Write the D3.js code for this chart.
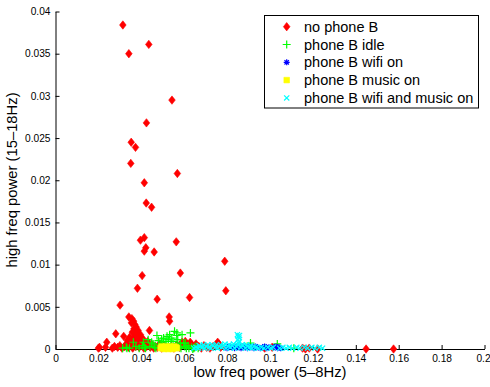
<!DOCTYPE html>
<html><head><meta charset="utf-8">
<script src="https://cdn.jsdelivr.net/npm/d3@7"></script>
<style>body{margin:0;background:#fff}svg{display:block}text{font-family:"Liberation Sans",Arial,Helvetica,sans-serif;fill:#000}</style>
</head><body><svg id="c" width="490" height="387"></svg>
<script>
const xTicks=[0,0.02,0.04,0.06,0.08,0.1,0.12,0.14,0.16,0.18,0.2];
const xTickLabels=["0","0.02","0.04","0.06","0.08","0.1","0.12","0.14","0.16","0.18","0.2"];
const yTicks=[0,0.005,0.01,0.015,0.02,0.025,0.03,0.035,0.04];
const yTickLabels=["0","0.005","0.01","0.015","0.02","0.025","0.03","0.035","0.04"];
const seriesNames=["no phone B","phone B idle","phone B wifi on","phone B music on","phone B wifi and music on"];

const noPhoneB=[[0.0314,0.0384],[0.0435,0.0361],[0.0342,0.0350],[0.0543,0.0295],[0.0424,0.0268],[0.0353,0.0245],[0.0373,0.0239],[0.0351,0.0220],[0.0568,0.0208],[0.0414,0.0197],[0.0423,0.0173],[0.0448,0.0168],[0.0563,0.0127],[0.0396,0.0129],[0.0414,0.0132],[0.0421,0.0120],[0.0414,0.0116],[0.0460,0.0115],[0.0789,0.0104],[0.0582,0.0090],[0.0794,0.0069],[0.0404,0.0087],[0.0382,0.0072],[0.0474,0.0059],[0.0625,0.0061],[0.0301,0.0052],
[0.0200,0.0001],[0.0205,0.0002],[0.0233,0.0002],[0.0239,0.0008],[0.0265,0.0001],[0.0275,0.0003],[0.0281,0.0018],[0.0290,0.0002],[0.0300,0.0004],[0.0310,0.0001],[0.0318,0.0015],[0.0322,0.0003],[0.0330,0.0006],[0.0335,0.0010],[0.0340,0.0002],[0.0342,0.0038],[0.0346,0.0014],[0.0350,0.0004],[0.0352,0.0009],[0.0354,0.0031],[0.0356,0.0036],[0.0358,0.0020],[0.0360,0.0001],[0.0362,0.0012],[0.0364,0.0033],[0.0366,0.0024],[0.0368,0.0007],[0.0370,0.0029],[0.0372,0.0016],[0.0374,0.0003],[0.0376,0.0026],[0.0378,0.0019],[0.0380,0.0011],[0.0382,0.0005],[0.0385,0.0022],[0.0388,0.0014],[0.0390,0.0002],[0.0393,0.0008],[0.0396,0.0017],[0.0400,0.0004],[0.0404,0.0010],[0.0408,0.0012],[0.0412,0.0001],[0.0418,0.0006],[0.0425,0.0003],[0.0430,0.0009],[0.0438,0.0022],[0.0442,0.0002],[0.0450,0.0005],[0.0458,0.0001],[0.0465,0.0003],[0.0475,0.0002],[0.0485,0.0006],[0.0495,0.0001],[0.0505,0.0004],[0.0515,0.0002],[0.0530,0.0038],[0.0532,0.0033],[0.0540,0.0003],[0.0552,0.0001],[0.0565,0.0005],[0.0578,0.0002],[0.0590,0.0008],[0.0598,0.0005],[0.0605,0.0009],[0.0612,0.0006],[0.0620,0.0004],[0.0628,0.0008],[0.0636,0.0005],[0.0645,0.0002],[0.0655,0.0006],[0.0668,0.0003],[0.0680,0.0001],[0.0692,0.0004],[0.0705,0.0002],[0.0720,0.0001],[0.0735,0.0003],[0.0748,0.0005],[0.0756,0.0008],[0.0762,0.0006],[0.0770,0.0002],[0.0975,0.0001],[0.1010,0.0002],[0.1152,0.0001],[0.1165,0.0000],[0.1183,0.0001],[0.1222,0.0000],[0.1448,0.0000],[0.1576,0.0000]];

const phoneBIdle=[[0.0313,0.0001],[0.0330,0.0002],[0.0333,0.0001],[0.0345,0.0001],[0.0363,0.0008],[0.0375,0.0003],[0.0390,0.0001],[0.0405,0.0004],[0.0410,0.0008],[0.0415,0.0002],[0.0420,0.0001],[0.0432,0.0011],[0.0440,0.0003],[0.0448,0.0008],[0.0455,0.0006],[0.0462,0.0002],[0.0468,0.0001],[0.0473,0.0016],[0.0480,0.0010],[0.0488,0.0005],[0.0495,0.0012],[0.0502,0.0007],[0.0504,0.0013],[0.0510,0.0003],[0.0515,0.0009],[0.0520,0.0015],[0.0526,0.0011],[0.0532,0.0017],[0.0538,0.0006],[0.0542,0.0013],[0.0548,0.0009],[0.0555,0.0021],[0.0560,0.0004],[0.0565,0.0016],[0.0566,0.0019],[0.0570,0.0011],[0.0576,0.0002],[0.0582,0.0007],[0.0585,0.0001],[0.0590,0.0017],[0.0597,0.0007],[0.0603,0.0003],[0.0605,0.0007],[0.0610,0.0001],[0.0618,0.0004],[0.0622,0.0001],[0.0629,0.0019],[0.0635,0.0002],[0.0640,0.0000],[0.0645,0.0001],[0.0650,0.0002],[0.0655,0.0003],[0.0665,0.0001],[0.0909,0.0007],[0.1034,0.0006],[0.1111,0.0001]];

const phoneBWifi=[[0.0800,0.0001],[0.0810,0.0003],[0.0820,0.0002],[0.0835,0.0001],[0.0842,0.0003],[0.0850,0.0002],[0.0865,0.0001],[0.0872,0.0003],[0.0880,0.0002],[0.0895,0.0001],[0.0902,0.0003],[0.0910,0.0002],[0.0925,0.0001],[0.0932,0.0003],[0.0940,0.0002],[0.0955,0.0001],[0.0966,0.0002],[0.0975,0.0003],[0.0985,0.0001],[0.0995,0.0002],[0.1020,0.0002],[0.1028,0.0003],[0.1035,0.0001],[0.1042,0.0002],[0.1050,0.0001]];

const phoneBMusic=[[0.0490,0.0001],[0.0494,0.0003],[0.0498,0.0001],[0.0502,0.0002],[0.0506,0.0000],[0.0510,0.0002],[0.0514,0.0003],[0.0518,0.0001],[0.0522,0.0002],[0.0526,0.0000],[0.0530,0.0002],[0.0534,0.0003],[0.0538,0.0001],[0.0542,0.0002],[0.0546,0.0000],[0.0550,0.0002],[0.0554,0.0003],[0.0558,0.0001],[0.0562,0.0002],[0.0566,0.0001]];

const phoneBWifiMusic=[[0.0645,0.0001],[0.0655,0.0002],[0.0665,0.0001],[0.0670,0.0004],[0.0675,0.0003],[0.0685,0.0002],[0.0690,0.0005],[0.0695,0.0001],[0.0705,0.0003],[0.0710,0.0005],[0.0715,0.0002],[0.0725,0.0001],[0.0730,0.0005],[0.0735,0.0004],[0.0745,0.0002],[0.0750,0.0005],[0.0755,0.0001],[0.0765,0.0003],[0.0770,0.0005],[0.0775,0.0002],[0.0785,0.0004],[0.0790,0.0006],[0.0795,0.0001],[0.0805,0.0003],[0.0810,0.0005],[0.0815,0.0002],[0.0825,0.0004],[0.0830,0.0006],[0.0835,0.0001],[0.0845,0.0003],[0.0848,0.0017],[0.0852,0.0015],[0.0855,0.0013],[0.0850,0.0011],[0.0857,0.0009],[0.0853,0.0007],[0.0849,0.0005],[0.0858,0.0016],[0.0865,0.0002],[0.0870,0.0005],[0.0875,0.0004],[0.0885,0.0001],[0.0890,0.0005],[0.0895,0.0003],[0.0905,0.0002],[0.0910,0.0004],[0.0915,0.0001],[0.0925,0.0003],[0.0935,0.0002],[0.0945,0.0001],[0.0960,0.0002],[0.0972,0.0001],[0.0990,0.0002],[0.1005,0.0001],[0.1015,0.0002],[0.1045,0.0001],[0.1060,0.0002],[0.1075,0.0001],[0.1090,0.0002],[0.1105,0.0001],[0.1125,0.0002],[0.1140,0.0001],[0.1160,0.0002],[0.1175,0.0001],[0.1195,0.0002],[0.1210,0.0001],[0.1230,0.0002],[0.1245,0.0001]];

const svg=d3.select("#c");
const x=d3.scaleLinear().domain([0,0.2]).range([55.5,484.5]);
const y=d3.scaleLinear().domain([0,0.04]).range([349,11.5]);

// axes
const xAxis=d3.axisBottom(x).tickValues(xTicks).tickFormat((d,i)=>xTickLabels[i]).tickSizeInner(-4).tickSizeOuter(0).tickPadding(6);
const yAxis=d3.axisLeft(y).tickValues(yTicks).tickFormat((d,i)=>yTickLabels[i]).tickSizeInner(-4).tickSizeOuter(0).tickPadding(5);
const gx=svg.append("g").attr("transform","translate(0,349)").call(xAxis);
const gy=svg.append("g").attr("transform","translate(55.5,0)").call(yAxis);
[gx,gy].forEach(g=>{g.selectAll("text").style("font-size","10.2px").attr("fill","#222");g.selectAll("line,path").attr("stroke","#000");});
gx.selectAll(".tick").filter((d,i)=>i===xTicks.length-1).select("text").attr("dx","-1.5");

// markers
const shapes={
 diamond:"M0,-4.2L3.3,0L0,4.2L-3.3,0Z",
 plus:"M-4,0H4M0,-4V4",
 star:"M-3,0H3M0,-3V3M-2.2,-2.2L2.2,2.2M-2.2,2.2L2.2,-2.2",
 square:"M-2.8,-2.8H2.8V2.8H-2.8Z",
 cross:"M-2.6,-2.6L2.6,2.6M-2.6,2.6L2.6,-2.6"
};
const series=[
 {name:seriesNames[0],data:noPhoneB,shape:"diamond",color:"#ff0000",fill:true},
 {name:seriesNames[1],data:phoneBIdle,shape:"plus",color:"#00ff00",fill:false},
 {name:seriesNames[2],data:phoneBWifi,shape:"star",color:"#0000ff",fill:false},
 {name:seriesNames[3],data:phoneBMusic,shape:"square",color:"#ffff00",fill:true},
 {name:seriesNames[4],data:phoneBWifiMusic,shape:"cross",color:"#00ffff",fill:false}
];
function styleMarker(sel,s){
  sel.attr("d",shapes[s.shape])
   .attr("fill",s.fill?s.color:"none")
   .attr("stroke",s.color)
   .attr("stroke-width",s.fill?0.6:1.2);
}
series.forEach(s=>{
  svg.append("g").selectAll("path").data(s.data).join("path")
   .attr("transform",d=>`translate(${x(d[0])},${y(d[1])})`)
   .call(styleMarker,s);
});

// axis titles
svg.append("text").attr("x",270).attr("y",377).attr("text-anchor","middle").style("font-size","14.8px").text("low freq power (5\u20138Hz)");
svg.append("text").attr("transform","translate(17,180) rotate(-90)").attr("text-anchor","middle").style("font-size","14.8px").text("high freq power (15\u201318Hz)");

// legend
const lg=svg.append("g");
lg.append("rect").attr("x",264.5).attr("y",15.5).attr("width",214).attr("height",92.5).attr("fill","#fff").attr("stroke","#000").attr("stroke-width",1);
series.forEach((s,i)=>{
  const cy=26.7+i*17.8;
  lg.append("path").attr("transform",`translate(286.7,${cy})`).call(styleMarker,s);
  lg.append("text").attr("x",304).attr("y",cy).attr("dy","0.35em").style("font-size","14.5px").text(s.name);
});
</script></body></html>
